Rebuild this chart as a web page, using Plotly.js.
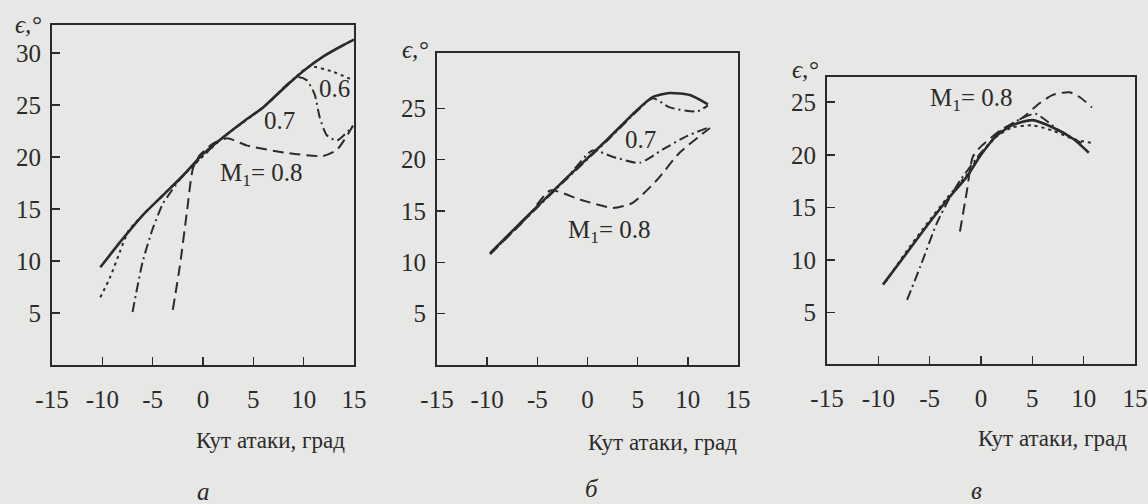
<!DOCTYPE html>
<html>
<head>
<meta charset="utf-8">
<script src="https://cdn.plot.ly/plotly-3.0.1.min.js"></script>
<style>html,body{margin:0;padding:0;background:#e7e7e5;}#chart{width:1148px;height:504px;}</style>
</head>
<body>
<div id="chart"></div>
<script>
// ---------- DATA ----------
// Panel а
const aSolidX = [-10.2, -8, -6, -4, -2, 0, 2, 4, 6, 8, 10, 12, 14, 15];
const aSolidY = [9.4, 12.1, 14.4, 16.3, 18.2, 20.3, 21.9, 23.4, 24.8, 26.6, 28.3, 29.7, 30.8, 31.3];
const aM06X = [-10.2, -9.2, -8.25, -7.4, -6, -2, 2, 6, 8, 10.6, 12.9, 14.9];
const aM06Y = [6.5, 8.5, 10.9, 12.9, 14.4, 18.2, 21.9, 24.8, 26.6, 28.7, 28.2, 27.4];
const aM07X = [-7.0, -6.0, -5.0, -4.0, -3.6, -2, 2, 6, 9.3, 10.3, 11.1, 11.6, 12.3, 13.3, 14.9];
const aM07Y = [5.1, 9.9, 13.1, 15.5, 16.1, 18.2, 21.9, 24.8, 27.7, 27.4, 26.0, 23.8, 22.1, 21.6, 23.0];
const aM08X = [-3.0, -2.3, -1.6, -1.0, -0.3, 1, 2.4, 4.4, 8.3, 11.9, 13.3, 14.9];
const aM08Y = [5.3, 9.5, 14.7, 18.9, 20.2, 21.3, 21.8, 21.1, 20.4, 20.1, 20.7, 23.0];
// Panel б
const bSolidX = [-9.7, -6, -2, 2, 5, 6.5, 8.2, 10.2, 12.0];
const bSolidY = [10.9, 14.5, 18.3, 22.0, 24.9, 26.1, 26.5, 26.3, 25.4];
const bM06X = [-9.7, -6, -2, 2, 5, 6.5, 8.2, 10.9, 12.0];
const bM06Y = [10.8, 14.4, 18.2, 21.9, 24.8, 26.0, 25.1, 24.7, 25.3];
const bM07X = [-9.7, -6, -2, 0.5, 2.5, 5.2, 7.5, 9.9, 12.2];
const bM07Y = [10.9, 14.5, 18.3, 20.9, 20.3, 19.7, 21.0, 22.3, 23.2];
const bM08X = [-9.7, -6, -3.7, -0.7, 2.55, 4.5, 6.9, 9.2, 12.2];
const bM08Y = [10.8, 14.4, 17.0, 16.1, 15.3, 15.8, 18.0, 20.7, 23.1];
// Panel в
const cSolidX = [-9.55, -7.2, -5.3, -3.3, -1.4, 0, 1.5, 3, 5, 7, 9, 10.5];
const cSolidY = [7.65, 10.7, 13.2, 15.7, 17.9, 20.0, 21.8, 22.8, 23.3, 22.6, 21.5, 20.2];
const cM06X = [-9.3, -7.2, -5.3, -3.3, -1.4, 0, 1.5, 3, 5, 7, 9, 10.9];
const cM06Y = [7.9, 10.9, 13.4, 15.9, 18.1, 20.1, 21.7, 22.6, 22.8, 22.3, 21.5, 21.1];
const cM07X = [-7.2, -5.9, -4.3, -3.0, -2.0, 0, 2, 4, 5.3, 7.5, 9.8];
const cM07Y = [6.2, 9.4, 13.5, 16.0, 17.6, 20.2, 22.3, 23.5, 23.9, 22.4, 21.1];
const cM08X = [-2.05, -1.4, -0.8, 0, 2, 4, 5.7, 7, 8.6, 9.6, 10.8];
const cM08Y = [12.7, 16.4, 19.8, 20.8, 22.4, 23.5, 24.9, 25.7, 25.95, 25.5, 24.5];

const xTicks = [-15, -10, -5, 0, 5, 10, 15];
const xTickText = ['-15', '-10', '-5', '0', '5', '10', '15'];
const yTicksA = [5, 10, 15, 20, 25, 30];
const yTicksBC = [5, 10, 15, 20, 25];
const xTitle = 'Кут атаки, град';
const yTitle = 'ϵ,°';
const panelLetters = ['а', 'б', 'в'];

// ---------- STYLE ----------
const ink = '#2b2b2b';
const bg = '#e7e7e5';
const serif = 'Liberation Serif';
const styles = {
  solid: {color: ink, width: 2.6, dash: 'solid'},
  m06: {color: ink, width: 2, dash: '3px,4px'},
  m07: {color: ink, width: 2, dash: '10px,4px,2px,4px'},
  m08: {color: ink, width: 2, dash: '11px,6px'}
};
function tr(x, y, st, xa, ya) {
  return {x: x, y: y, xaxis: xa, yaxis: ya, mode: 'lines', type: 'scatter',
          line: Object.assign({shape: 'spline', smoothing: 0.6}, styles[st]),
          hoverinfo: 'skip', showlegend: false};
}
const data = [
  tr(aSolidX, aSolidY, 'solid', 'x', 'y'),
  tr(aM06X, aM06Y, 'm06', 'x', 'y'),
  tr(aM07X, aM07Y, 'm07', 'x', 'y'),
  tr(aM08X, aM08Y, 'm08', 'x', 'y'),
  tr(bSolidX, bSolidY, 'solid', 'x2', 'y2'),
  tr(bM06X, bM06Y, 'm07', 'x2', 'y2'),
  tr(bM07X, bM07Y, 'm07', 'x2', 'y2'),
  tr(bM08X, bM08Y, 'm08', 'x2', 'y2'),
  tr(cSolidX, cSolidY, 'solid', 'x3', 'y3'),
  tr(cM06X, cM06Y, 'm06', 'x3', 'y3'),
  tr(cM07X, cM07Y, 'm07', 'x3', 'y3'),
  tr(cM08X, cM08Y, 'm08', 'x3', 'y3')
];

const W = 1148, H = 504;
function px(v) { return v / W; }
function py(v) { return 1 - v / H; }
const tickFont = {family: serif, size: 25, color: ink};
function xax(d0, d1, anchor) {
  return {domain: [px(d0), px(d1)], range: [-15, 15], anchor: anchor,
    tickmode: 'array', tickvals: xTicks, ticktext: xTickText,
    ticks: 'inside', ticklen: 8, tickwidth: 1.5, tickcolor: ink,
    showline: true, mirror: true, linecolor: ink, linewidth: 2,
    showgrid: false, zeroline: false, ticklabelstandoff: 11,
    tickfont: tickFont, fixedrange: true};
}
function yax(d0, d1, r, ticks, anchor) {
  return {domain: [py(d1), py(d0)], range: r, anchor: anchor,
    tickmode: 'array', tickvals: ticks, ticktext: ticks.map(String),
    ticks: 'inside', ticklen: 8, tickwidth: 1.5, tickcolor: ink,
    showline: true, mirror: true, linecolor: ink, linewidth: 2,
    showgrid: false, zeroline: false, ticklabelstandoff: 4,
    tickfont: tickFont, fixedrange: true};
}
function ann(text, x, y, xref, yref, size, italic) {
  return {text: text, x: x, y: y, xref: xref, yref: yref, showarrow: false,
    xanchor: 'center', yanchor: 'middle',
    font: {family: serif, size: size, color: ink, style: italic ? 'italic' : 'normal'}};
}
const annotations = [
  ann('0.6', 13.1, 26.6, 'x', 'y', 25),
  ann('0.7', 7.6, 23.5, 'x', 'y', 25),
  ann('M<sub>1</sub>= 0.8', 5.8, 18.3, 'x', 'y', 25),
  ann('0.7', 5.3, 22.0, 'x2', 'y2', 25),
  ann('M<sub>1</sub>= 0.8', 2.2, 13.0, 'x2', 'y2', 25),
  ann('M<sub>1</sub>= 0.8', -0.9, 25.3, 'x3', 'y3', 25),
  ann(yTitle, px(28), py(24), 'paper', 'paper', 25, true),
  ann(yTitle, px(415), py(50), 'paper', 'paper', 25, true),
  ann(yTitle, px(805), py(70), 'paper', 'paper', 25, true),
  ann(xTitle, px(270), py(440), 'paper', 'paper', 23),
  ann(xTitle, px(662), py(442), 'paper', 'paper', 23),
  ann(xTitle, px(1052), py(438), 'paper', 'paper', 23),
  ann(panelLetters[0], px(203), py(491), 'paper', 'paper', 25, true),
  ann(panelLetters[1], px(592), py(488), 'paper', 'paper', 25, true),
  ann(panelLetters[2], px(977), py(490), 'paper', 'paper', 25, true)
];

const layout = {
  width: W, height: H,
  margin: {l: 0, r: 0, t: 0, b: 0},
  paper_bgcolor: bg, plot_bgcolor: bg,
  showlegend: false,
  font: {family: serif, size: 25, color: ink},
  xaxis: xax(52, 354, 'y'),
  yaxis: yax(25, 365, [0, 32.7], yTicksA, 'x'),
  xaxis2: xax(437, 738, 'y2'),
  yaxis2: yax(53, 365, [0, 30.4], yTicksBC, 'x2'),
  xaxis3: xax(827, 1135, 'y3'),
  yaxis3: yax(77, 364, [0.1, 27.4], yTicksBC, 'x3'),
  annotations: annotations
};
Plotly.newPlot('chart', data, layout, {staticPlot: true, displayModeBar: false});
</script>
</body>
</html>
